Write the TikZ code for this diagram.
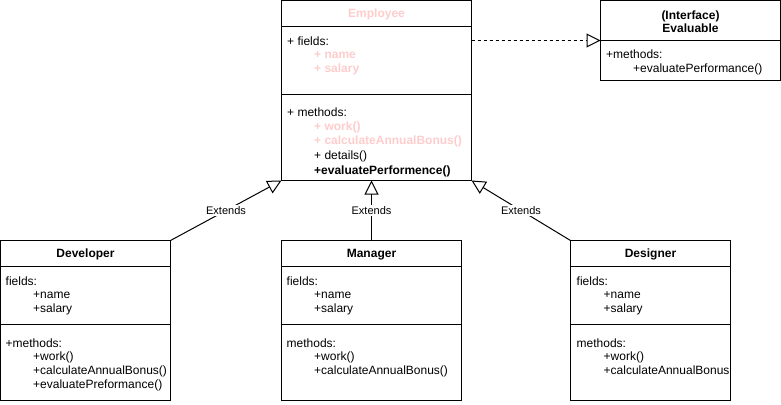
\documentclass[tikz,border=0pt]{standalone}
\usepackage{fontspec}
\setmainfont{Liberation Sans}
\usetikzlibrary{arrows.meta}
\definecolor{pinkt}{RGB}{255,204,204}
\begin{document}
\begin{tikzpicture}[x=1pt,y=-1pt,
 box/.style={draw,line width=1pt,anchor=north west,inner sep=0pt,outer sep=0pt},
 sep/.style={line width=1pt},
 t/.style={anchor=west,inner sep=0pt,yshift=-1pt,font=\fontsize{12}{14}\selectfont},
 pk/.style={text=pinkt,font=\bfseries\fontsize{12}{14}\selectfont},
 bt/.style={font=\bfseries\fontsize{12}{14}\selectfont},
 ttl/.style={inner sep=0pt,yshift=-1pt,font=\bfseries\fontsize{12}{12.6}\selectfont,align=center},
 lbl/.style={fill=white,inner sep=1pt,font=\fontsize{11}{13}\selectfont},
 ext/.style={line width=1pt,-{Triangle[open,length=14pt,width=14pt]}},
 ]
\useasboundingbox (0,0) rectangle (781,404);
% boxes
\node[box,minimum width=190pt,minimum height=180pt] (emp) at (281.5,0.5) {};
\node[box,minimum width=180pt,minimum height=80pt] (eval) at (600.5,0.5) {};
\node[box,minimum width=170pt,minimum height=160pt] (dev) at (0.5,240.5) {};
\node[box,minimum width=180pt,minimum height=160pt] (man) at (281.5,240.5) {};
\node[box,minimum width=160pt,minimum height=160pt] (des) at (570.5,240.5) {};
% separators
\draw[sep] (emp.west |- 0,26.5) -- (emp.east |- 0,26.5);
\draw[sep] (emp.west |- 0,94.5) -- (emp.east |- 0,94.5);
\draw[sep] (eval.west) -- (eval.east);
\foreach \b in {dev,man,des}{
  \draw[sep] (\b.west |- 0,266.5) -- (\b.east |- 0,266.5);
  \draw[sep] (\b.west |- 0,324.5) -- (\b.east |- 0,324.5);
}
% Employee
\node[ttl,text=pinkt] (empt) at (376.5,13.5) {Employee};
\node[t] (empf) at (287,40) {+ fields:};
\node[t,pk] (empf1) at (314,54) {+ name};
\node[t,pk] (empf2) at (314,68.5) {+ salary};
\node[t] (empm) at (287,111) {+ methods:};
\node[t,pk] (empm1) at (314,126) {+ work()};
\node[t,pk] (empm2) at (314,140.5) {+ calculateAnnualBonus()};
\node[t] (empm3) at (314,155) {+ details()};
\node[t,bt] (empm4) at (314,170) {+evaluatePerformence()};
% Evaluable
\node[ttl] (evalt) at (690.5,21) {(Interface)\\Evaluable};
\node[t] (evalm) at (606,53) {+methods:};
\node[t] (evalm1) at (633,68.5) {+evaluatePerformance()};
% Developer
\node[ttl] (devt) at (85.5,253.5) {Developer};
\node[t] (devf) at (5.5,280.5) {fields:};
\node[t] (devf1) at (33,294.5) {+name};
\node[t] (devf2) at (33,308.5) {+salary};
\node[t] (devm) at (5.5,342.5) {+methods:};
\node[t] (devm1) at (33,356.5) {+work()};
\node[t] (devm2) at (33,370.5) {+calculateAnnualBonus()};
\node[t] (devm3) at (33,384.5) {+evaluatePreformance()};
% Manager
\node[ttl] (mant) at (371.5,253.5) {Manager};
\node[t] (manf) at (286.5,280.5) {fields:};
\node[t] (manf1) at (314,294.5) {+name};
\node[t] (manf2) at (314,308.5) {+salary};
\node[t] (manm) at (286.5,342.5) {methods:};
\node[t] (manm1) at (314,356.5) {+work()};
\node[t] (manm2) at (314,370.5) {+calculateAnnualBonus()};
% Designer
\node[ttl] (dest) at (650.5,253.5) {Designer};
\node[t] (desf) at (576.5,280.5) {fields:};
\node[t] (desf1) at (603.5,294.5) {+name};
\node[t] (desf2) at (603.5,308.5) {+salary};
\node[t] (desm) at (576.5,342.5) {methods:};
\node[t] (desm1) at (603.5,356.5) {+work()};
\begin{scope}
\clip (des.north west) rectangle ([xshift=-1pt]des.south east);
\node[t] (desm2) at (603.5,370.5) {+calculateAnnualBonus()};
\end{scope}
% connectors
\draw[ext,dash pattern=on 3pt off 3pt] (emp.east |- eval.west) -- (eval.west);
\draw[ext] (dev.north east) -- node[lbl] (l1) {Extends} (emp.south west);
\draw[ext] (man.north) -- node[lbl] (l2) {Extends} (man.north |- emp.south);
\draw[ext] (des.north west) -- node[lbl] (l3) {Extends} (emp.south east);
\end{tikzpicture}
\end{document}
